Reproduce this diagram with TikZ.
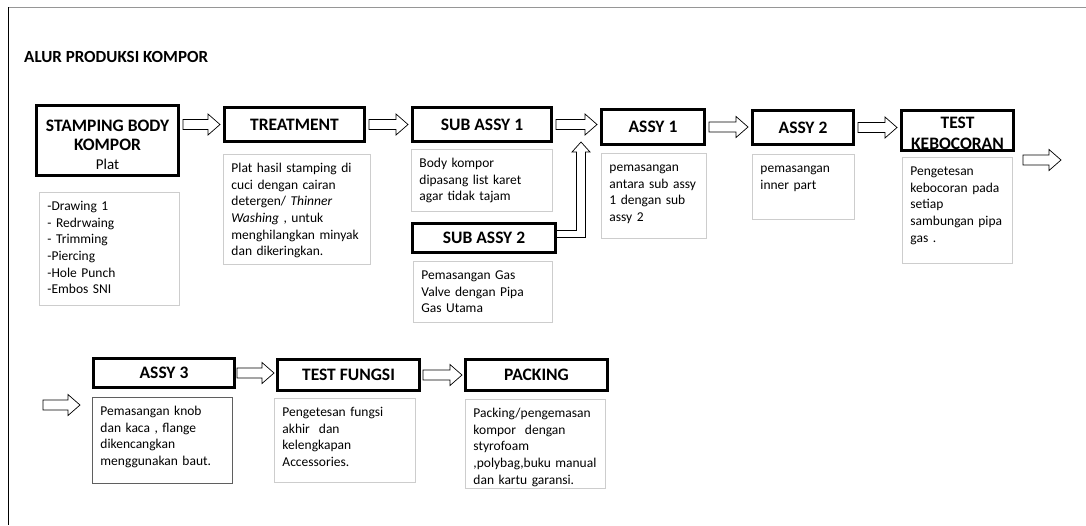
\documentclass[tikz,border=0pt]{standalone}
\usepackage{fontspec}
\setmainfont{Carlito}
\usetikzlibrary{calc}

\definecolor{boxgray}{RGB}{205,205,205}
\definecolor{darkline}{RGB}{95,95,95}
\definecolor{framegray}{RGB}{150,150,150}

\begin{document}
\begin{tikzpicture}[x=1pt, y=-1pt,
    headbox/.style 2 args={draw, line width=2.6pt, anchor=north west, align=center,
      inner sep=0pt, minimum width=#1, minimum height=#2,
      font=\bfseries\fontsize{17.5}{19}\selectfont},
    descbox/.style 2 args={draw=boxgray, line width=0.9pt, anchor=north west, align=left,
      inner xsep=8pt, inner ysep=0pt, text width=#1, text height=18pt, text depth=#2,
      font=\fontsize{13.5}{16.7}\selectfont},
    blockarrow/.style={draw, line width=0.7pt, fill=white, to path={
      let \p1=(\tikztostart), \p2=(\tikztotarget) in
      (\x1,\y1+5pt) -- (\x2-12pt,\y1+5pt) -- (\x2-12pt,\y1+10.5pt) -- (\x2,\y1)
      -- (\x2-12pt,\y1-10.5pt) -- (\x2-12pt,\y1-5pt) -- (\x1,\y1-5pt) -- cycle}}]
  \useasboundingbox (0,0) rectangle (1086,525);
  \draw[framegray, line width=1pt] (8,7) -- (1086,7);
  \draw[line width=1pt] (8,7) -- (8,525);

  \node[anchor=west, inner sep=0pt, font=\bfseries\fontsize{17}{19}\selectfont] (title)
    at (24,57) {ALUR PRODUKSI KOMPOR};

  % first row
  \node[headbox={142.4pt}{70.4pt}] (stamp) at (35,104)
    {\rule{0pt}{19.5pt}STAMPING BODY\\KOMPOR\\{\mdseries\fontsize{15}{19}\selectfont Plat}};
  \node[descbox={124pt}{95pt}] (stampdesc) at (39,192)
    {-Drawing 1\\- Redrwaing\\- Trimming\\-Piercing\\-Hole Punch\\-Embos SNI};

  \node[headbox={140.4pt}{34.4pt}] (treat) at (223,106) {TREATMENT};
  \node[descbox={131pt}{92pt}] (treatdesc) at (223,154)
    {Plat hasil stamping di\\cuci dengan cairan\\detergen/ \textit{Thinner}\\
     \textit{Washing} , untuk\\menghilangkan minyak\\dan dikeringkan.};

  \node[headbox={139.4pt}{34.4pt}] (subA) at (411,106) {SUB ASSY 1};
  \node[descbox={125pt}{44pt}] (subAdesc) at (411,149)
    {Body kompor\\dipasang list karet\\agar tidak tajam};

  \node[headbox={143.4pt}{29.4pt}] (subB) at (411,222) {SUB ASSY 2};
  \node[descbox={123pt}{43pt}] (subBdesc) at (413,261)
    {Pemasangan Gas\\Valve dengan Pipa\\Gas Utama};

  \node[headbox={103.4pt}{35.4pt}] (assyA) at (600,108) {ASSY 1};
  \node[descbox={89pt}{67pt}] (assyAdesc) at (601,153)
    {pemasangan\\antara sub assy\\1 dengan sub\\assy 2};

  \node[headbox={101.4pt}{34.4pt}] (assyB) at (751,109) {ASSY 2};
  \node[descbox={86pt}{47pt}] (assyBdesc) at (752,154)
    {pemasangan\\inner part};

  \node[headbox={112.4pt}{40.4pt}, font=\bfseries\fontsize{17.5}{21.5}\selectfont] (leak)
    at (900,109) {\rule{0pt}{17pt}TEST\\KEBOCORAN};
  \node[descbox={94pt}{88pt}] (leakdesc) at (902,157)
    {Pengetesan\\kebocoran pada\\setiap\\sambungan pipa\\gas .};

  % second row
  \node[headbox={141.4pt}{29.4pt}] (assyC) at (92,357) {ASSY 3};
  \node[descbox={124pt}{68pt}, draw=darkline] (assyCdesc) at (92,397)
    {Pemasangan knob\\dan kaca , flange\\dikencangkan\\menggunakan baut.};

  \node[headbox={142.4pt}{31.4pt}] (func) at (276,358) {TEST FUNGSI};
  \node[descbox={125pt}{66pt}] (funcdesc) at (274,398)
    {Pengetesan fungsi\\akhir~ dan\\kelengkapan\\Accessories.};

  \node[headbox={142.4pt}{31.4pt}] (pack) at (464,358) {PACKING};
  \node[descbox={124pt}{71pt}] (packdesc) at (465,399)
    {Packing/pengemasan\\kompor~ dengan\\styrofoam\\,polybag,buku manual\\dan kartu garansi.};

  % block arrows
  \coordinate (a1foot) at (581,142);
  \coordinate (leakout) at (1023,160);
  \coordinate (leakend) at (1061,160);
  \coordinate (rowin) at (43,405);
  \coordinate (rowend) at (80,405);

  \draw[blockarrow] ($(stamp.east |- treat.west)+(3,0)$) to ($(treat.west)+(-3,0)$);
  \draw[blockarrow] ($(treat.east)+(3,0)$) to ($(subA.west)+(-3,0)$);
  \draw[blockarrow] ($(subA.east)+(3,0)$) to ($(assyA.west)+(-3,0)$);
  \draw[blockarrow] ($(assyA.east)+(3,0)$) to ($(assyB.west)+(-3,0)$);
  \draw[blockarrow] ($(assyB.east)+(3,0)$) to ($(leak.west)+(-3,0)$);
  \draw[blockarrow] (leakout) to (leakend);
  \draw[blockarrow] (rowin) to (rowend);
  \draw[blockarrow] ($(assyC.east)+(1,0)$) to ($(func.west)+(-2,0)$);
  \draw[blockarrow] ($(func.east)+(2,0)$) to ($(pack.west)+(-2,0)$);
  \draw[line width=0.7pt, fill=white] let \p1=($(subB.east)+(0,-4)$), \p2=(a1foot) in
    (\x1,\y1-3.5pt) -- (\x2+4.5pt,\y1-3.5pt) -- (\x2+4.5pt,\y2-10pt)
    -- (\x2+9pt,\y2-10pt) -- (\x2,\y2) -- (\x2-9pt,\y2-10pt) -- (\x2-4.5pt,\y2-10pt)
    -- (\x2-4.5pt,\y1+3.5pt) -- (\x1,\y1+3.5pt);
\end{tikzpicture}
\end{document}
